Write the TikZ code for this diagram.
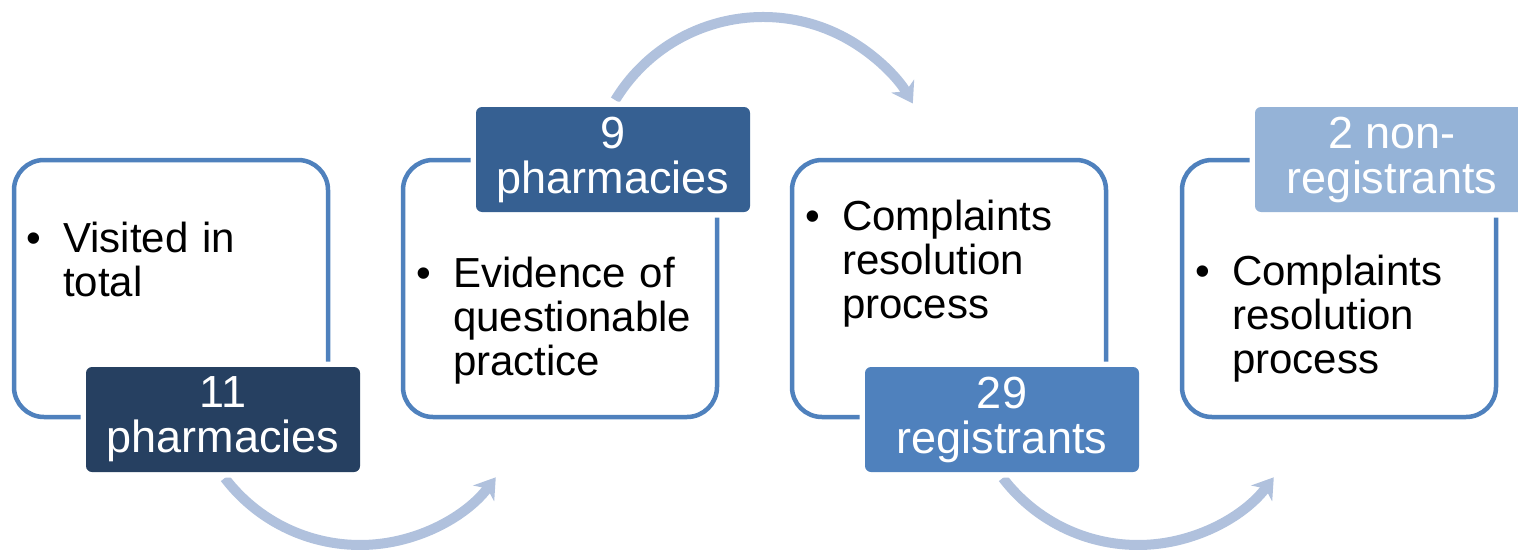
\documentclass[tikz,border=0pt]{standalone}
\usepackage{fontspec}
\setmainfont{Liberation Sans}
\usetikzlibrary{arrows.meta}
\definecolor{boxline}{HTML}{4F81BD}
\definecolor{labA}{HTML}{264061}
\definecolor{labB}{HTML}{366092}
\definecolor{labC}{HTML}{4F81BD}
\definecolor{labD}{HTML}{95B3D7}
\definecolor{arrcol}{HTML}{B0C1DD}
\tikzset{
  card/.style={draw=boxline, line width=4.5pt, fill=white, rounded corners=30pt,
    minimum width=314pt, minimum height=257pt, inner sep=0pt},
  tag/.style={rounded corners=6pt, minimum width=274pt, minimum height=105pt,
    inner sep=0pt, text=white, align=center,
    font=\fontsize{45}{45}\selectfont,
    preaction={draw=white, line width=11pt, rounded corners=6pt}},
  body/.style={inner sep=0pt, anchor=base west, align=left, text width=270pt,
    font=\fontsize{42}{44}\selectfont},
  dot/.style={inner sep=0pt, anchor=base west, font=\fontsize{42}{44}\selectfont},
  arr/.style={draw=arrcol, line width=10pt,
    -{Stealth[length=20pt, width=26pt, inset=6pt]}}
}
\begin{document}
\begin{tikzpicture}[x=1pt, y=-1pt]
\useasboundingbox (0,0) rectangle (1518,554);
% arc centres
\coordinate (c1) at (360,375);
\coordinate (c2) at (763,190);
\coordinate (c3) at (1138,375);
% arrows (behind)
\draw[arr] ([shift={(142.7:170)}]c1) arc[start angle=142.7, end angle=37, radius=170];
\draw[arr] ([shift={(211.3:173)}]c2) arc[start angle=211.3, end angle=330, radius=173];
\draw[arr] ([shift={(142.7:170)}]c3) arc[start angle=142.7, end angle=37, radius=170];
% cards
\node[card] (b1) at (171,288.5) {};
\node[card] (b2) at (560,288.5) {};
\node[card] (b3) at (949,288.5) {};
\node[card] (b4) at (1339,288.5) {};
% body text
\node[dot] (u1) at (26,252) {•};
\node[body] (t1) at (63,252) {Visited in\\total};
\node[dot] (u2) at (416,287) {•};
\node[body] (t2) at (453,287) {Evidence of\\questionable\\practice};
\node[dot] (u3) at (805,230) {•};
\node[body] (t3) at (842,230) {Complaints\\resolution\\process};
\node[dot] (u4) at (1195,285) {•};
\node[body] (t4) at (1232,285) {Complaints\\resolution\\process};
% labels
\node[tag, fill=labA] (l1) at (223,419.5) {11\\pharmacies};
\node[tag, fill=labB] (l2) at (613,159.5) {9\\pharmacies};
\node[tag, fill=labC] (l3) at (1002,419.5) {29\\registrants};
\node[tag, fill=labD] (l4) at (1392,159.5) {2 non-\\registrants};
\end{tikzpicture}
\end{document}
